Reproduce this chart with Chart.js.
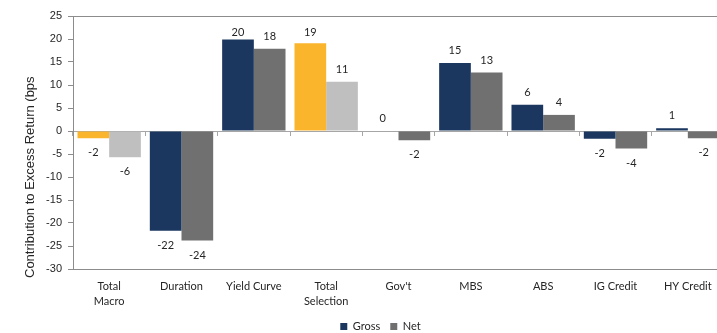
<!DOCTYPE html>
<html>
<head>
<meta charset="utf-8">
<script src="https://cdn.jsdelivr.net/npm/chart.js@4/dist/chart.umd.min.js"></script>
<style>
  html, body { margin: 0; padding: 0; background: #fff; overflow: hidden; }
  #wrap { position: relative; width: 761px; height: 333px; }
</style>
</head>
<body>
<div id="wrap"><canvas id="c"></canvas></div>
<script>
  // categorias e valores (bps)
  var categories = [['Total', 'Macro'], 'Duration', 'Yield Curve', ['Total', 'Selection'], "Gov't", 'MBS', 'ABS', 'IG Credit', 'HY Credit'];
  var grossValues = [-1.6, -21.7, 19.9, 19.1, 0.1, 14.8, 5.7, -1.7, 0.6];
  var netValues = [-5.7, -23.8, 17.9, 10.7, -2.0, 12.7, 3.5, -3.8, -1.6];
  var totalIndexes = [0, 3]; // barras de total usam outra cor
  var yTicks = { min: -30, max: 25, step: 5 };
  var axisTitle = 'Contribution to Excess Return (bps';

  var NAVY = '#1B365F', GREY = '#707070', GOLD = '#FBB52C', LIGHT = '#BFBFBF';
  var LINE = '#8C8C8C', TEXT = '#262626';
  var LBL_FONT = "Lato, 'Open Sans', sans-serif";

  function colors(base, total) {
    return categories.map(function (c, i) { return totalIndexes.indexOf(i) >= 0 ? total : base; });
  }
  function xlRound(v) { return v < 0 ? -Math.round(-v) : Math.round(v); }

  // rótulos de valor acima/abaixo das barras
  var valueLabels = {
    id: 'valueLabels',
    afterDatasetsDraw: function (chart) {
      var ctx = chart.ctx, area = chart.chartArea;
      ctx.save();
      ctx.font = '11px ' + LBL_FONT;
      ctx.fillStyle = TEXT;
      ctx.textAlign = 'center';
      ctx.textBaseline = 'middle';
      chart.data.datasets.forEach(function (ds, di) {
        chart.getDatasetMeta(di).data.forEach(function (bar, i) {
          var v = ds.data[i];
          var y = v >= 0 ? Math.max(bar.y - 12.5, area.top + 16) : bar.y + 14.5;
          ctx.fillText(String(xlRound(v)), bar.x, y);
        });
      });
      ctx.restore();
    }
  };

  // título do eixo Y, girado
  var yTitle = {
    id: 'yTitle',
    afterDraw: function (chart) {
      var ctx = chart.ctx;
      ctx.save();
      ctx.translate(30, 278);
      ctx.rotate(-Math.PI / 2);
      ctx.font = "13px 'Liberation Sans', Arial, sans-serif";
      ctx.fillStyle = TEXT;
      ctx.textAlign = 'left';
      ctx.textBaseline = 'middle';
      ctx.fillText(axisTitle, 0, 0);
      ctx.restore();
    }
  };

  new Chart(document.getElementById('c'), {
    type: 'bar',
    data: {
      labels: categories,
      datasets: [
        { label: 'Gross', data: grossValues, backgroundColor: colors(NAVY, GOLD), legendColor: NAVY },
        { label: 'Net', data: netValues, backgroundColor: colors(GREY, LIGHT), legendColor: GREY }
      ]
    },
    options: {
      responsive: true,
      maintainAspectRatio: false,
      animation: false,
      datasets: { bar: { categoryPercentage: 0.876, barPercentage: 1 } },
      layout: { padding: { top: 16, right: 0, bottom: -9, left: 0 } },
      plugins: {
        tooltip: { enabled: false },
        legend: {
          position: 'bottom',
          labels: {
            boxWidth: 7, boxHeight: 7, padding: 10, color: TEXT,
            font: { family: LBL_FONT, size: 11 },
            generateLabels: function (chart) {
              return chart.data.datasets.map(function (ds, i) {
                return { text: ds.label, fillStyle: ds.legendColor, strokeStyle: ds.legendColor, lineWidth: 0, hidden: false, datasetIndex: i, fontColor: TEXT };
              });
            }
          }
        }
      },
      scales: {
        x: {
          grid: { display: false, drawTicks: false },
          border: { display: false },
          ticks: { color: TEXT, font: { family: LBL_FONT, size: 11, lineHeight: 1.36 }, padding: 10, maxRotation: 0, autoSkip: false },
          afterFit: function (s) { s.height = 42; }
        },
        // linha do zero com marcas entre categorias
        x2: {
          type: 'category',
          position: { y: 0 },
          offset: true,
          grid: { display: true, offset: true, drawOnChartArea: false, drawTicks: true, tickLength: 4, color: '#A6A6A6' },
          border: { display: true, color: '#A6A6A6' },
          ticks: { display: false }
        },
        y: {
          min: yTicks.min, max: yTicks.max,
          ticks: { stepSize: yTicks.step, color: TEXT, padding: 6, font: { family: "'Liberation Sans', Arial, sans-serif", size: 11 } },
          grid: {
            color: function (c) { var v = c.tick.value; return (v === yTicks.max || v === yTicks.min) ? LINE : 'rgba(0,0,0,0)'; },
            tickColor: LINE, tickLength: 5, drawTicks: true
          },
          border: { color: LINE },
          afterFit: function (s) { s.width = 73; }
        },
        // eixo vazio à direita só para reservar espaço
        yR: {
          type: 'linear',
          position: 'right',
          grid: { display: false, drawTicks: false },
          border: { display: false },
          ticks: { display: false },
          afterFit: function (s) { s.width = 37; }
        }
      }
    },
    plugins: [valueLabels, yTitle]
  });
</script>
</body>
</html>
